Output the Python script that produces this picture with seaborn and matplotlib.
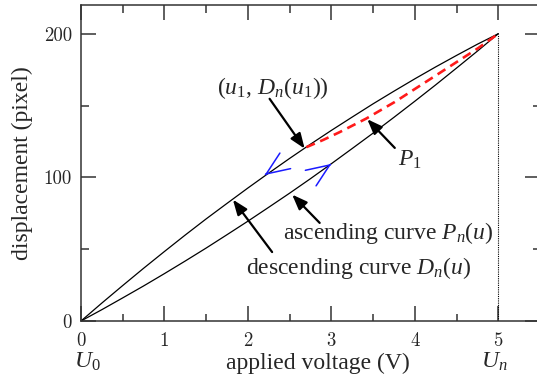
import numpy as np
import pandas as pd
import matplotlib
matplotlib.use("Agg")
import matplotlib.pyplot as plt
import matplotlib.transforms as mtransforms
from matplotlib.ticker import MultipleLocator
import seaborn as sns

# major hysteresis loop, volts -> pixels
voltage = [0.0, 0.25, 0.5, 0.75, 1.0, 1.25, 1.5, 1.75, 2.0, 2.25, 2.5,
           2.75, 3.0, 3.25, 3.5, 3.75, 4.0, 4.25, 4.5, 4.75, 5.0]
descending = [0.0, 12.5, 24.7, 36.7, 48.4, 59.9, 71.1, 81.9, 92.6, 103.0, 113.2,
              123.1, 132.7, 142.0, 151.2, 160.0, 168.6, 176.9, 184.9, 192.7, 200.0]
ascending = [0.0, 7.9, 16.1, 24.4, 33.0, 41.8, 50.8, 60.1, 69.5, 79.2, 89.0,
             99.1, 109.5, 120.1, 130.8, 141.8, 153.0, 164.4, 176.1, 187.9, 200.0]

# first-order reversal curve starting at u1
reversal_u = [2.70, 2.90, 3.10, 3.42, 3.76, 4.00, 4.36, 4.76, 5.00]
reversal_d = [121.0, 126.0, 131.5, 141.0, 152.5, 161.5, 175.0, 190.0, 200.0]

x_ticks = [0, 1, 2, 3, 4, 5]
y_ticks = [0, 100, 200]

SPINE = "#333333"
FS = 17


def main():
    sns.set_theme(style="ticks")
    plt.rcParams["font.family"] = ["Liberation Serif", "DejaVu Serif"]
    plt.rcParams["mathtext.fontset"] = "custom"
    plt.rcParams["mathtext.rm"] = "Liberation Serif"
    plt.rcParams["mathtext.it"] = "Liberation Serif:italic"

    loop = pd.DataFrame({"u": voltage, "desc": descending, "asc": ascending})
    rev = pd.DataFrame({"u": reversal_u, "d": reversal_d})

    fig = plt.figure(figsize=(5.37, 3.80), dpi=100)
    ax = fig.add_axes([81 / 537, 59 / 380, 459 / 537, 316 / 380])

    sns.lineplot(data=loop, x="u", y="desc", color="black", lw=0.9, sort=False, estimator=None, ax=ax)
    sns.lineplot(data=loop, x="u", y="asc", color="black", lw=0.9, sort=False, estimator=None, ax=ax)
    sns.lineplot(data=rev, x="u", y="d", color="#ff1a1a", lw=1.9, sort=False, estimator=None,
                 ax=ax, dashes=False, linestyle=(0, (3.5, 2.2)))

    ax.vlines(voltage[-1], 0, descending[-1], color="black", lw=0.8, linestyles=(0, (1, 1)))

    ax.set_xlim(0, 5.5)
    ax.set_ylim(0, 220)

    for side in ["top", "right", "bottom", "left"]:
        ax.spines[side].set_visible(True)
        ax.spines[side].set_color(SPINE)
        ax.spines[side].set_linewidth(1.1)

    ax.set_xticks(x_ticks)
    ax.set_yticks(y_ticks)
    ax.xaxis.set_minor_locator(MultipleLocator(0.5))
    ax.yaxis.set_minor_locator(MultipleLocator(50))
    ax.tick_params(which="both", direction="in", top=True, right=True, color=SPINE, width=1.1)
    ax.tick_params(which="major", length=10.8)
    ax.tick_params(which="minor", length=5.4)
    ax.tick_params(axis="x", which="major", pad=8, labelsize=13.5)
    ax.tick_params(axis="y", which="major", pad=6.5, labelsize=13.5)
    ax.set_xticklabels([str(t) for t in x_ticks])
    ax.set_yticklabels([str(t) for t in y_ticks])
    for lbl in ax.get_xticklabels() + ax.get_yticklabels():
        lbl.set_fontfamily("cmr10")

    ax.set_xlabel("applied voltage (V)", fontsize=FS)
    ax.set_ylabel("displacement (pixel)", fontsize=FS)
    ax.xaxis.set_label_coords(0.516, -0.102)
    ax.yaxis.set_label_coords(-0.104, 0.5)

    trans = mtransforms.blended_transform_factory(ax.transData, ax.transAxes)
    ax.text(0.08, -0.093, r"$U_0$", transform=trans, ha="center", va="top", fontsize=FS)
    ax.text(4.95, -0.093, r"$U_n$", transform=trans, ha="center", va="top", fontsize=FS)

    # labels with pointer arrows
    notes = [
        (r"$(u_1,\, D_n(u_1))$", (2.30, 162), (2.26, 154.7), (2.68, 120.0)),
        (r"$P_1$", (3.94, 112), (3.76, 120.5), (3.43, 140.5)),
        (r"ascending curve $P_n(u)$", (3.68, 61), (2.86, 68.3), (2.53, 88.0)),
        (r"descending curve $D_n(u)$", (3.32, 37), (2.29, 48.0), (1.82, 84.5)),
    ]
    for label, pos, start, tip in notes:
        ax.text(pos[0], pos[1], label, ha="center", va="center", fontsize=FS)
        ax.annotate("", xy=tip, xytext=start,
                    arrowprops=dict(arrowstyle="-|>,head_length=0.65,head_width=0.25",
                                    color="black", lw=1.6, shrinkA=0, shrinkB=0,
                                    mutation_scale=14))

    # direction chevrons on the loop
    chevrons = [((2.20, 101.6), (2.21, 102.0)), ((3.00, 109.4), (2.99, 109.0))]
    for tip, tail in chevrons:
        ax.annotate("", xy=tip, xytext=tail,
                    arrowprops=dict(arrowstyle="->,head_length=0.83,head_width=0.34",
                                    color="#1a1aff", lw=1.1, shrinkA=0, shrinkB=0,
                                    mutation_scale=20))

    fig.savefig("out.png", dpi=100)
    plt.close(fig)


if __name__ == "__main__":
    main()
